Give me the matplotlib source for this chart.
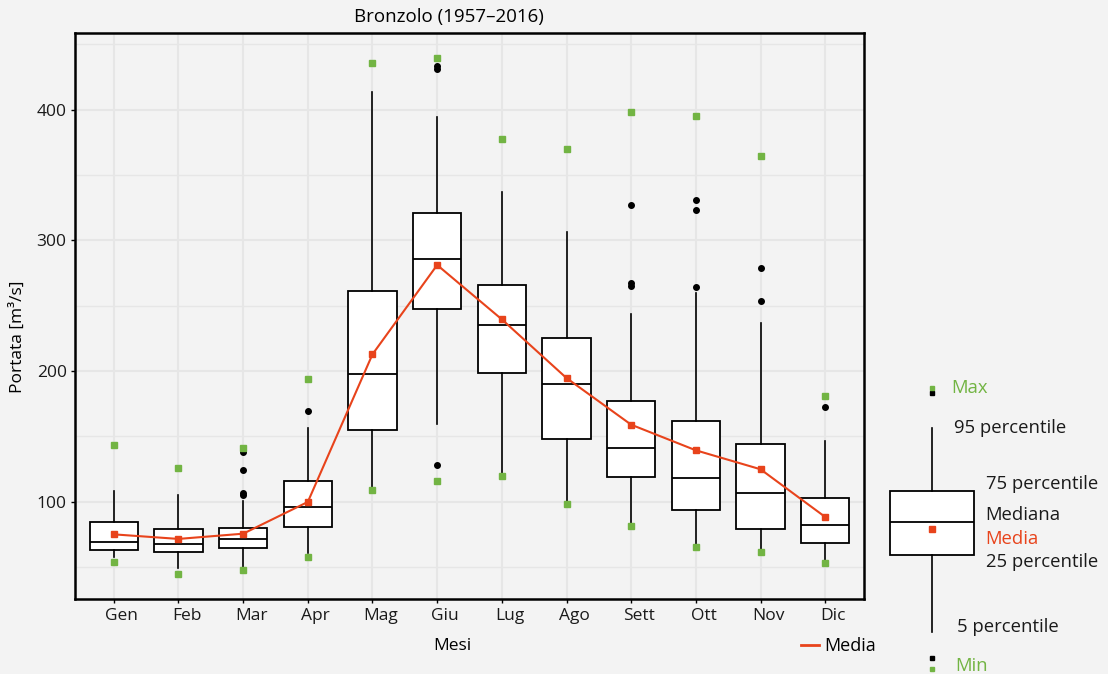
import numpy as np
import matplotlib
matplotlib.use("Agg")
import matplotlib.pyplot as plt
from matplotlib.lines import Line2D
from matplotlib.transforms import ScaledTranslation

plt.rcParams['font.family'] = ['Open Sans', 'DejaVu Sans']

# dati mensili (m3/s)
months = ['Gen', 'Feb', 'Mar', 'Apr', 'Mag', 'Giu', 'Lug', 'Ago', 'Sett', 'Ott', 'Nov', 'Dic']
q75 = [84.7, 79.1, 80.1, 116.1, 261.4, 321.1, 265.8, 225.0, 177.3, 161.7, 144.4, 102.8]
median = [69.2, 67.9, 71.2, 95.7, 197.9, 285.4, 235.4, 189.8, 141.3, 118.1, 106.4, 82.0]
q25 = [63.0, 61.3, 64.8, 80.4, 154.6, 247.7, 198.4, 147.7, 118.9, 93.9, 79.1, 68.6]
p95 = [108.0, 105.1, 100.8, 156.6, 413.7, 394.1, 336.8, 306.4, 243.6, 259.4, 236.5, 146.7]
p5 = [58.0, 49.0, 50.3, 61.0, 110.5, 159.2, 121.7, 100.0, 83.5, 66.9, 63.0, 55.4]
mean = [75.0, 71.5, 75.5, 99.8, 212.8, 281.1, 239.5, 194.6, 158.9, 139.3, 124.8, 88.3]
vmax = [143.2, 125.5, 140.8, 193.9, 435.6, 439.2, 377.3, 369.6, 398.4, 395.3, 364.2, 180.9]
vmin = [53.9, 44.9, 48.0, 57.9, 108.7, 116.1, 119.9, 98.2, 81.4, 65.3, 61.3, 53.3]
outliers = [[], [], [105.0, 106.5, 124.0, 138.3], [169.6], [], [128.1, 431.0, 433.5],
            [], [], [265.0, 267.0, 327.0], [264.5, 323.4, 331.1], [253.8, 279.0], [172.5]]

# schema della legenda (coordinate del riquadro legenda)
key_labels = ['Max', '95 percentile', '75 percentile', 'Mediana', 'Media', '25 percentile', '5 percentile', 'Min']

RED = '#e8431b'
GREEN = '#72b443'
BG = '#f3f3f3'
GRID = '#e6e6e6'

W, H = 1108, 674
fig = plt.figure(figsize=(W / 100, H / 100), dpi=100, facecolor=BG)
ax = fig.add_axes([75 / W, (H - 599.3) / H, 789 / W, 566 / H], facecolor=BG)

pos = np.arange(1, len(months) + 1)
stats = []
for i in range(len(months)):
    stats.append(dict(med=median[i], q1=q25[i], q3=q75[i], whislo=p5[i], whishi=p95[i],
                      fliers=[], mean=mean[i]))

ax.bxp(stats, positions=pos, widths=0.75, showcaps=False, showfliers=False, patch_artist=True,
       boxprops=dict(facecolor='white', edgecolor='black', linewidth=1.3),
       medianprops=dict(color='black', linewidth=1.3),
       whiskerprops=dict(color='black', linewidth=1.2), zorder=3)

for i, pts in enumerate(outliers):
    if pts:
        ax.plot([pos[i]] * len(pts), pts, 'o', color='black', markersize=4, zorder=4)
ax.plot(pos, vmax, 's', color=GREEN, markersize=4, zorder=5)
ax.plot(pos, vmin, 's', color=GREEN, markersize=4, zorder=5)
ax.plot(pos, mean, '-s', color=RED, linewidth=1.5, markersize=4, zorder=6)

ax.set_xlim(0.4, 12.6)
ax.set_ylim(25.3, 458.4)
ax.set_xticks(pos)
ax.set_xticklabels(months)
ax.set_yticks([100, 200, 300, 400])
ax.set_yticks([50, 150, 250, 350, 450], minor=True)
ax.grid(True, which='major', color=GRID, linewidth=1.5, zorder=0)
ax.grid(True, which='minor', axis='y', color=GRID, linewidth=1.0, zorder=0)
ax.set_axisbelow(True)
ax.tick_params(axis='both', which='major', length=3, width=1, labelsize=12.5,
               labelcolor='#1a1a1a', pad=3)
ax.tick_params(axis='y', which='minor', length=0)
for lbl in ax.get_xticklabels():
    lbl.set_transform(lbl.get_transform() + ScaledTranslation(8 / 100, 0, fig.dpi_scale_trans))
for s in ax.spines.values():
    s.set_linewidth(1.8)
    s.set_color('black')

fig.text(449 / W, (H - 17) / H, 'Bronzolo (1957–2016)', ha='center', va='center', fontsize=13.5)
fig.text(452 / W, (H - 646) / H, 'Mesi', ha='center', va='center', fontsize=12.5)
fig.text(18 / W, (H - 337) / H, 'Portata [m³/s]', ha='center', va='center', rotation=90, fontsize=12.5)

fig.legend(handles=[Line2D([], [], color=RED, linewidth=2)], labels=['Media'],
           loc='center left', bbox_to_anchor=(801 / W, (H - 646) / H), frameon=False,
           handlelength=1.0, handletextpad=0.3, fontsize=13, borderaxespad=0, borderpad=0)

# legenda schematica a destra (coordinate in pixel della figura)
lax = fig.add_axes([870 / W, 0, 238 / W, 370 / H], facecolor='none')
lax.set_xlim(870, 1108)
lax.set_ylim(674, 304)
lax.axis('off')
key_stats = [dict(med=522.3, q1=555.0, q3=491.0, whislo=632.3, whishi=427.7, fliers=[])]
lax.bxp(key_stats, positions=[932], widths=84.4, showcaps=False, showfliers=False, patch_artist=True,
        boxprops=dict(facecolor='white', edgecolor='black', linewidth=1.3),
        medianprops=dict(color='black', linewidth=1.3),
        whiskerprops=dict(color='black', linewidth=1.2), manage_ticks=False)
lax.plot([932], [529], 's', color=RED, markersize=4)
lax.plot([932, 932], [393, 658.3], 's', color='black', markersize=2.5)
lax.plot([932, 932], [387.7, 669.3], 's', color=GREEN, markersize=2.5)

key_x = [951.7, 953.7, 985.7, 985.7, 985.7, 985.7, 957.3, 955.0]
key_y = [388.3, 427.7, 484.3, 515.0, 539.3, 562.0, 626.7, 666.0]
key_c = [GREEN, '#1a1a1a', '#1a1a1a', '#1a1a1a', RED, '#1a1a1a', '#1a1a1a', GREEN]
for t, x, y, c in zip(key_labels, key_x, key_y, key_c):
    lax.text(x, y, t, ha='left', va='center', fontsize=13.3, color=c)

fig.savefig('out.png', dpi=100, facecolor=BG)
